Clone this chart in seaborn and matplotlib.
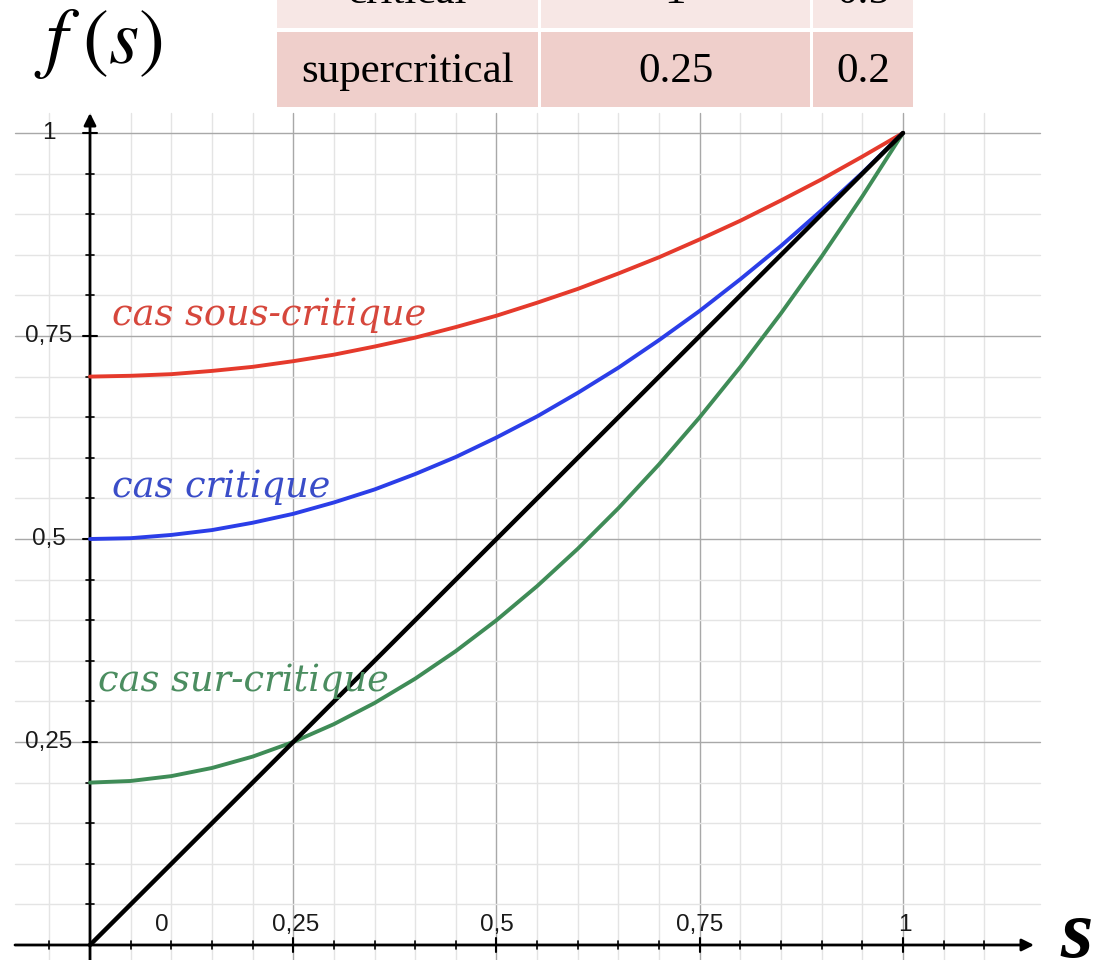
import numpy as np
import pandas as pd
import matplotlib
matplotlib.use("Agg")
import matplotlib.pyplot as plt
from matplotlib.patches import Rectangle
import seaborn as sns

# ---------------- data ----------------
s_values = [0.00, 0.05, 0.10, 0.15, 0.20, 0.25, 0.30, 0.35, 0.40, 0.45, 0.50,
            0.55, 0.60, 0.65, 0.70, 0.75, 0.80, 0.85, 0.90, 0.95, 1.00]
f_sous = [0.700, 0.701, 0.703, 0.707, 0.712, 0.719, 0.727, 0.737, 0.748, 0.761, 0.775,
          0.791, 0.808, 0.827, 0.847, 0.869, 0.892, 0.917, 0.943, 0.971, 1.000]
f_critique = [0.500, 0.501, 0.505, 0.511, 0.520, 0.531, 0.545, 0.561, 0.580, 0.601, 0.625,
              0.651, 0.680, 0.711, 0.745, 0.781, 0.820, 0.861, 0.905, 0.951, 1.000]
f_sur = [0.200, 0.202, 0.208, 0.218, 0.232, 0.250, 0.272, 0.298, 0.328, 0.362, 0.400,
         0.442, 0.488, 0.538, 0.592, 0.650, 0.712, 0.778, 0.848, 0.922, 1.000]
diag_s = [0.0, 1.0]
diag_f = [0.0, 1.0]

case_names = ["cas sous-critique", "cas critique", "cas sur-critique"]
case_colors = ["#e53a2c", "#2b3ee8", "#3f8c57"]
label_colors = ["#d6473c", "#3a4dc8", "#4b8d60"]

table_names = ["critical", "supercritical"]
table_col2 = ["1", "0.25"]
table_col3 = ["0.5", "0.2"]

x_tick_values = [0.0, 0.25, 0.5, 0.75, 1.0]
x_tick_labels = ["0", "0,25", "0,5", "0,75", "1"]
y_tick_values = [0.25, 0.5, 0.75, 1.0]
y_tick_labels = ["0,25", "0,5", "0,75", "1"]

# ---------------- layout ----------------
W, H = 1097, 960
X0, SX = 90.0, 813.0
Y0, SY = 945.0, 812.0


def dx(px):
    return (px - X0) / SX


def dy(py):
    return (Y0 - py) / SY


sns.set_theme(style="white")
plt.rcParams["mathtext.fontset"] = "stix"
fig = plt.figure(figsize=(W / 100, H / 100), dpi=100)
ax = fig.add_axes([0, 0, 1, 1])
ax.set_xlim(dx(0), dx(W))
ax.set_ylim(dy(H), dy(0))
ax.axis("off")

grid_left, grid_right = dx(15), dx(1040)
grid_top = dy(113)
grid_bottom = dy(H)

minor_c, major_c = "#e4e4e4", "#a8a8a8"
for v in np.round(np.arange(-0.05, 1.1001, 0.05), 2):
    major = abs(v / 0.25 - round(v / 0.25)) < 1e-6 and v != 0
    ax.plot([v, v], [grid_bottom, grid_top], color=major_c if major else minor_c,
            lw=1.0, zorder=1)
for v in np.round(np.arange(0.05, 1.0001, 0.05), 2):
    major = abs(v / 0.25 - round(v / 0.25)) < 1e-6
    ax.plot([grid_left, grid_right], [v, v], color=major_c if major else minor_c,
            lw=1.0, zorder=1)

# axes with arrows
ax.annotate("", xy=(dx(1034), 0), xytext=(dx(15), 0),
            arrowprops=dict(arrowstyle="-|>", color="black", lw=2.0,
                            mutation_scale=18, shrinkA=0, shrinkB=0), zorder=3)
ax.annotate("", xy=(0, dy(113)), xytext=(0, dy(H)),
            arrowprops=dict(arrowstyle="-|>", color="black", lw=2.0,
                            mutation_scale=18, shrinkA=0, shrinkB=0), zorder=3)

# tick marks
for v in np.round(np.arange(-0.05, 1.1001, 0.05), 2):
    if v == 0:
        continue
    major = abs(v / 0.25 - round(v / 0.25)) < 1e-6
    h = (7 if major else 4) / SY
    ax.plot([v, v], [-h, h], color="black", lw=1.5 if major else 1.2, zorder=3)
for v in np.round(np.arange(0.05, 1.0001, 0.05), 2):
    major = abs(v / 0.25 - round(v / 0.25)) < 1e-6
    w = (7 if major else 4) / SX
    ax.plot([-w, w], [v, v], color="black", lw=1.5 if major else 1.2, zorder=3)

# curves (seaborn)
df = pd.DataFrame({
    "s": s_values * 3,
    "f": f_sous + f_critique + f_sur,
    "case": [case_names[0]] * len(s_values) + [case_names[1]] * len(s_values)
            + [case_names[2]] * len(s_values),
})
sns.lineplot(data=df, x="s", y="f", hue="case", palette=dict(zip(case_names, case_colors)),
             linewidth=2.8, legend=False, ax=ax, estimator=None, sort=False, zorder=4)
sns.lineplot(x=diag_s, y=diag_f, color="black", linewidth=3.2, ax=ax, zorder=5)

# curve labels
label_pos = [(112, 315), (112, 487), (98, 681)]
for name, col, (px, py) in zip(case_names, label_colors, label_pos):
    ax.text(dx(px), dy(py), name, color=col, fontsize=26.5, fontstyle="italic",
            family="DejaVu Serif", ha="left", va="center", zorder=6)

# tick labels
xlab_px = [162, 296, 497, 700, 905]
for v, lab, px in zip(x_tick_values, x_tick_labels, xlab_px):
    ax.text(dx(px), dy(925), lab, fontsize=17.5, family="Liberation Sans",
            color="#1a1a1a", ha="center", va="center", zorder=6)
for v, lab in zip(y_tick_values, y_tick_labels):
    ax.text(dx(49), v, lab, fontsize=17.5, family="Liberation Sans",
            color="#1a1a1a", ha="center", va="center", zorder=6)

# ---------------- overlay (pixel coordinates) ----------------
pax = fig.add_axes([0, 0, 1, 1], zorder=10)
pax.set_xlim(0, W)
pax.set_ylim(H, 0)
pax.axis("off")
pax.patch.set_alpha(0)

row_tops = [-47, 32]
row_h = 75
cols = [(277, 538), (541, 810), (813, 913)]
row_colors = ["#f7e7e5", "#efcfcb"]
for r, (top, rc) in enumerate(zip(row_tops, row_colors)):
    for (x1, x2) in cols:
        pax.add_patch(Rectangle((x1, top), x2 - x1, row_h, facecolor=rc, edgecolor="none"))
    base = top + 50
    texts = [table_names[r], table_col2[r], table_col3[r]]
    for (x1, x2), t in zip(cols, texts):
        pax.text((x1 + x2) / 2, base, t, fontsize=31, family="Liberation Serif",
                 color="black", ha="center", va="baseline")

pax.text(34, 43, r"$f\;(s)$", fontsize=56, ha="left", va="center", color="black")
pax.text(1060, 957, "s", fontsize=60, family="Liberation Serif", fontstyle="italic",
         fontweight="bold", ha="left", va="baseline", color="black")

fig.savefig("out.png", dpi=100)
